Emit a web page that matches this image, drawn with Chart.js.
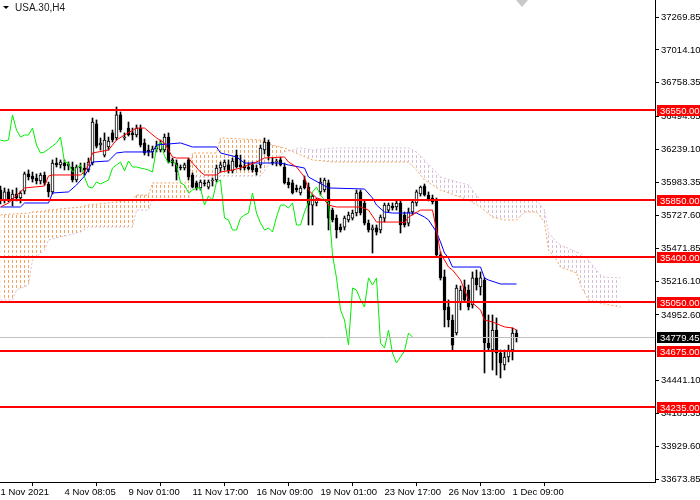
<!DOCTYPE html>
<html>
<head>
<meta charset="utf-8">
<script src="https://cdn.jsdelivr.net/npm/chart.js@4.4.0/dist/chart.umd.min.js"></script>
<style>
  html, body { margin: 0; padding: 0; background: #fff; }
</style>
</head>
<body>
<canvas id="ichimokuChart" width="700" height="500"></canvas>
<script>
const symbolTitle = 'USA.30,H4';

// time axis labels and the bar index they sit on
const timeLabels = ['1 Nov 2021', '4 Nov 08:05', '9 Nov 01:00', '11 Nov 17:00', '16 Nov 09:00', '19 Nov 01:00', '23 Nov 17:00', '26 Nov 13:00', '1 Dec 09:00'];
const timeLabelBars = [0, 16, 32, 48, 64, 80, 96, 112, 128];

// price axis labels (the one under the 34675 tag is hidden in the original)
const priceTicks = [37269.85, 37014.10, 36758.35, 36494.85, 36239.10, 35983.35, 35727.60, 35471.85, 35216.10, 34952.60, 34441.10, 34185.35, 33929.60, 33673.85];

// H4 candles
const opens = [35924, 35846, 35909, 35854, 35893, 35862, 35916, 36049, 36033, 36017, 35994, 36041, 35971, 35909, 36134, 36119, 36134, 36111, 36103, 36002,
  36103, 36095, 36080, 36134, 36438, 36274, 36196, 36259, 36368, 36329, 36508, 36329, 36406, 36368, 36352, 36406, 36290, 36235, 36220, 36243,
  36235, 36235, 36336, 36158, 36134, 36103, 36095, 36158, 36041, 35979, 35940, 35979, 35947, 35994, 36002, 36095, 36103, 36119, 36072, 36196,
  36119, 36111, 36103, 36119, 36095, 36119, 36235, 36297, 36142, 36142, 36158, 36103, 35986, 35979, 35940, 35901, 36002, 35947, 35807, 35823,
  35909, 35924, 35979, 35768, 35706, 35636, 35636, 35691, 35706, 35745, 35909, 35823, 35667, 35613, 35629, 35613, 35706, 35768, 35800, 35792,
  35823, 35730, 35667, 35753, 35823, 35893, 35955, 35885, 35862, 35846, 35419, 35248, 35014, 34913, 34812, 35053, 35170, 35146, 35030, 35240,
  35170, 35224, 34734, 34680, 34835, 34656, 34563, 34625, 34680, 34812];
const highs = [35955, 35940, 35932, 35924, 35940, 35916, 36064, 36080, 36064, 36049, 36056, 36064, 35986, 36158, 36173, 36158, 36158, 36142, 36142, 36119,
  36134, 36134, 36173, 36484, 36469, 36329, 36368, 36336, 36391, 36570, 36531, 36368, 36453, 36406, 36430, 36430, 36321, 36274, 36266, 36305,
  36313, 36360, 36368, 36173, 36158, 36119, 36134, 36173, 36056, 35994, 36002, 36002, 36002, 36017, 36119, 36142, 36158, 36158, 36173, 36235,
  36196, 36158, 36134, 36142, 36119, 36274, 36329, 36313, 36173, 36165, 36181, 36134, 36017, 36002, 35963, 35955, 36033, 35979, 35885, 35862,
  36017, 36017, 36002, 35784, 35730, 35660, 35722, 35753, 35768, 35924, 35924, 35846, 35691, 35652, 35652, 35730, 35823, 35823, 35823, 35846,
  35846, 35753, 35784, 35846, 35924, 35955, 35971, 35909, 35885, 35862, 35442, 35302, 35069, 34952, 35185, 35178, 35224, 35185, 35287, 35302,
  35287, 35240, 34952, 34952, 34929, 34680, 34680, 34718, 34851, 34835];
const lows = [35815, 35823, 35831, 35800, 35839, 35823, 35893, 36002, 35986, 35971, 35971, 35963, 35870, 35893, 36103, 36095, 36080, 36080, 35986, 35986,
  36064, 36041, 36064, 36119, 36251, 36235, 36181, 36235, 36297, 36313, 36375, 36313, 36344, 36313, 36336, 36259, 36196, 36189, 36173, 36220,
  36220, 36220, 36134, 36111, 36002, 36080, 36080, 36002, 35940, 35924, 35924, 35955, 35932, 35955, 35986, 36064, 36080, 36056, 36056, 36095,
  36080, 36080, 36080, 36064, 36041, 36095, 36204, 36158, 36119, 36111, 36111, 35971, 35940, 35893, 35909, 35885, 35932, 35652, 35652, 35800,
  35885, 35909, 35613, 35675, 35551, 35597, 35613, 35675, 35691, 35722, 35730, 35652, 35597, 35434, 35574, 35590, 35675, 35753, 35768, 35768,
  35590, 35636, 35644, 35730, 35800, 35877, 35877, 35839, 35815, 35411, 35224, 34859, 34859, 34680, 34796, 34991, 35053, 34991, 35006, 35146,
  35107, 34501, 34680, 34524, 34485, 34462, 34524, 34586, 34602, 34742];
const closes = [35846, 35909, 35854, 35893, 35862, 35901, 36049, 36025, 36010, 35994, 36041, 35979, 35909, 36134, 36119, 36142, 36111, 36126, 36002, 36103,
  36095, 36080, 36142, 36453, 36266, 36290, 36313, 36305, 36313, 36508, 36391, 36336, 36352, 36352, 36406, 36274, 36212, 36220, 36243, 36266,
  36290, 36336, 36142, 36134, 36064, 36095, 36119, 36025, 35947, 35940, 35986, 35971, 35986, 36002, 36095, 36119, 36142, 36072, 36150, 36103,
  36103, 36095, 36088, 36080, 36064, 36251, 36297, 36189, 36134, 36150, 36119, 35979, 35963, 35901, 35924, 35940, 35940, 35807, 35877, 35846,
  35986, 36002, 35706, 35691, 35613, 35613, 35706, 35730, 35745, 35901, 35745, 35667, 35613, 35629, 35597, 35714, 35807, 35807, 35784, 35823,
  35652, 35652, 35753, 35831, 35909, 35947, 35885, 35846, 35831, 35419, 35240, 34991, 34913, 34718, 35162, 35146, 35069, 35014, 35240, 35185,
  35240, 34734, 34695, 34835, 34656, 34579, 34625, 34672, 34812, 34779.45];

// Ichimoku lines, read at their corners
const tenkanBars = [0, 2, 6, 11, 12, 13, 20, 21, 22, 23, 27, 28, 29, 31, 34, 36, 39, 41, 42, 43, 44, 47, 48, 50, 51, 54, 55, 58, 60, 62, 64, 66, 71, 72, 74, 76, 77, 79, 81, 82, 84, 90, 92, 94, 100, 101, 102, 105, 108, 109, 110, 112, 113, 115, 117, 118, 120, 121, 123, 126, 128, 129];
const tenkanValues = [35792, 35823, 35940, 35955, 36033, 36041, 36041, 36064, 36119, 36212, 36235, 36274, 36313, 36352, 36406, 36406, 36329, 36290, 36235, 36181, 36173, 36173, 36134, 36064, 36041, 36041, 36064, 36080, 36095, 36119, 36142, 36173, 36181, 36142, 36103, 36025, 35924, 35862, 35846, 35807, 35792, 35792, 35768, 35675, 35675, 35667, 35714, 35768, 35768, 35613, 35434, 35325, 35302, 35224, 35069, 35045, 34991, 34913, 34898, 34859, 34851, 34835];
const kijunBars = [0, 5, 6, 12, 13, 17, 19, 21, 23, 27, 29, 31, 38, 39, 45, 48, 54, 55, 59, 61, 70, 72, 76, 77, 82, 91, 93, 94, 96, 98, 104, 106, 107, 109, 110, 111, 112, 113, 120, 121, 122, 125, 129];
const kijunValues = [35792, 35792, 35823, 35823, 35901, 35909, 35963, 36033, 36142, 36150, 36212, 36220, 36220, 36274, 36290, 36259, 36259, 36212, 36181, 36134, 36134, 36119, 36095, 36025, 35940, 35932, 35862, 35807, 35753, 35745, 35745, 35714, 35691, 35597, 35520, 35434, 35395, 35325, 35325, 35240, 35224, 35193, 35193];
const chikouShift = 26;

// cloud edges (span A and span B)
const cloudBars = [0, 3, 4, 7, 8, 11, 12, 20, 22, 33, 34, 37, 38, 47, 48, 54, 55, 65, 68, 71, 75, 78, 83, 102, 104, 106, 110, 117, 120, 123, 126, 129, 131, 134, 136, 137, 139, 140, 144, 145, 147, 150, 151, 155];
const senkouA = [35730, 35738, 35738, 35745, 35753, 35761, 35768, 35792, 35807, 35846, 35885, 35885, 35979, 35979, 36212, 36212, 36329, 36313, 36274, 36251, 36196, 36158, 36142, 36142, 36080, 36002, 35924, 35846, 35792, 35714, 35691, 35691, 35753, 35753, 35675, 35458, 35380, 35325, 35279, 35185, 35069, 35045, 35037, 35014];
const senkouB = [35069, 35069, 35146, 35185, 35380, 35458, 35535, 35597, 35636, 35636, 35768, 35768, 35846, 35846, 36025, 36025, 36033, 36033, 36158, 36220, 36251, 36235, 36251, 36251, 36220, 36158, 36025, 35963, 35846, 35846, 35846, 35846, 35846, 35846, 35768, 35590, 35520, 35497, 35442, 35434, 35380, 35263, 35248, 35240];

// horizontal levels and the last price
const levelPrices = [36550.00, 35850.00, 35400.00, 35050.00, 34675.00, 34235.00];
const lastPrice = 34779.45;

const axisFont = '"Liberation Sans", sans-serif';
const canvas = document.getElementById('ichimokuChart');
const ctx = canvas.getContext('2d');

// vertical dotted hatch used inside the cloud
function hatch(color) {
  const c = document.createElement('canvas');
  c.width = 4;
  c.height = 5;
  const g = c.getContext('2d');
  g.fillStyle = color;
  g.fillRect(0, 0, 1, 3);
  return ctx.createPattern(c, 'repeat');
}

const pts = (xs, ys) => xs.map((x, i) => ({ x, y: ys[i] }));
const candleIdx = closes.map((c, i) => i);

const overlay = {
  id: 'overlay',
  afterDatasetsDraw(chart) {
    const { ctx, chartArea, scales } = chart;
    ctx.save();
    // last price line
    const yp = Math.round(scales.y.getPixelForValue(lastPrice)) + 0.5;
    ctx.strokeStyle = '#c0c0c0';
    ctx.lineWidth = 1;
    ctx.beginPath();
    ctx.moveTo(chartArea.left, yp);
    ctx.lineTo(chartArea.right, yp);
    ctx.stroke();
    // support / resistance lines
    ctx.strokeStyle = '#ff0000';
    ctx.lineWidth = 2;
    levelPrices.forEach(p => {
      const y = Math.round(scales.y.getPixelForValue(p));
      ctx.beginPath();
      ctx.moveTo(chartArea.left, y);
      ctx.lineTo(chartArea.right, y);
      ctx.stroke();
    });
    ctx.restore();
  },
  afterDraw(chart) {
    const { ctx, chartArea, scales } = chart;
    ctx.save();
    ctx.font = '9.5px ' + axisFont;
    ctx.textBaseline = 'middle';
    const tag = (p, bg) => {
      const y = Math.round(scales.y.getPixelForValue(p));
      ctx.fillStyle = bg;
      ctx.fillRect(chartArea.right + 2, y - 5, 700 - chartArea.right - 2, 11);
      ctx.fillStyle = '#fff';
      ctx.fillText(p.toFixed(2), chartArea.right + 5, y + 1);
    };
    levelPrices.forEach(p => tag(p, '#ff0000'));
    tag(lastPrice, '#000');

    // symbol caption
    ctx.fillStyle = '#000';
    ctx.beginPath();
    ctx.moveTo(3, 6);
    ctx.lineTo(9, 6);
    ctx.lineTo(6, 9);
    ctx.closePath();
    ctx.fill();
    ctx.fillStyle = '#1a1a1a';
    ctx.font = '10px ' + axisFont;
    ctx.textBaseline = 'alphabetic';
    ctx.fillText(symbolTitle, 15, 11);

    // chart shift marker
    ctx.fillStyle = '#c8c8c8';
    ctx.beginPath();
    ctx.moveTo(516, 0);
    ctx.lineTo(528, 0);
    ctx.lineTo(522, 7);
    ctx.closePath();
    ctx.fill();
    ctx.restore();
  }
};

new Chart(ctx, {
  type: 'bar',
  data: {
    datasets: [
      {
        type: 'line',
        label: 'Senkou A',
        data: pts(cloudBars, senkouA),
        borderColor: '#f4a460',
        borderWidth: 1,
        borderDash: [2, 2],
        pointRadius: 0,
        tension: 0,
        fill: { target: '+1', above: hatch('#f4a460'), below: hatch('#d8bfd8') },
        order: 20
      },
      {
        type: 'line',
        label: 'Senkou B',
        data: pts(cloudBars, senkouB),
        borderColor: '#d8bfd8',
        borderWidth: 1,
        borderDash: [2, 2],
        pointRadius: 0,
        tension: 0,
        fill: false,
        order: 19
      },
      {
        label: 'Wicks',
        data: candleIdx.map(i => ({ x: i, y: [lows[i], highs[i]] })),
        backgroundColor: '#000',
        barThickness: 1,
        grouped: false,
        order: 10
      },
      {
        label: 'Bodies',
        data: candleIdx.map(i => ({ x: i, y: [opens[i], closes[i]] })),
        backgroundColor: candleIdx.map(i => closes[i] >= opens[i] ? '#fff' : '#000'),
        borderColor: '#000',
        borderWidth: 1,
        borderSkipped: false,
        barThickness: 3,
        grouped: false,
        order: 9
      },
      {
        type: 'line',
        label: 'Chikou',
        data: candleIdx.filter(i => i >= chikouShift).map(i => ({ x: i - chikouShift, y: closes[i] })),
        borderColor: '#00ee00',
        borderWidth: 1,
        pointRadius: 0,
        tension: 0,
        order: 5
      },
      {
        type: 'line',
        label: 'Kijun',
        data: pts(kijunBars, kijunValues),
        borderColor: '#0000ff',
        borderWidth: 1,
        pointRadius: 0,
        tension: 0,
        order: 4
      },
      {
        type: 'line',
        label: 'Tenkan',
        data: pts(tenkanBars, tenkanValues),
        borderColor: '#ff0000',
        borderWidth: 1,
        pointRadius: 0,
        tension: 0,
        order: 3
      }
    ]
  },
  options: {
    responsive: false,
    animation: false,
    events: [],
    layout: { padding: 0 },
    plugins: {
      legend: { display: false },
      tooltip: { enabled: false }
    },
    scales: {
      x: {
        type: 'linear',
        position: 'bottom',
        min: -0.125,
        max: 163.625,
        offset: false,
        grid: { display: true, drawOnChartArea: false, drawTicks: true, tickLength: 4, color: '#000' },
        border: { display: true, color: '#000', width: 1 },
        ticks: {
          autoSkip: false,
          maxRotation: 0,
          align: 'start',
          padding: 1,
          color: '#000',
          font: { family: axisFont, size: 9.5 },
          callback: v => timeLabels[timeLabelBars.indexOf(v)]
        },
        afterBuildTicks: s => { s.ticks = timeLabelBars.map(v => ({ value: v })); },
        afterFit: s => { s.height = 18; s.paddingLeft = 0; s.paddingRight = 0; }
      },
      y: {
        type: 'linear',
        position: 'right',
        min: 33652.8,
        max: 37402.1,
        beginAtZero: false,
        grid: { display: true, drawOnChartArea: false, drawTicks: true, tickLength: 4, color: '#000' },
        border: { display: true, color: '#000', width: 1 },
        ticks: {
          padding: 2,
          color: '#000',
          font: { family: axisFont, size: 9.5 },
          callback: v => v.toFixed(2)
        },
        afterBuildTicks: s => { s.ticks = priceTicks.map(v => ({ value: v })); },
        afterFit: s => { s.width = 45; s.paddingTop = 0; s.paddingBottom = 0; }
      }
    }
  },
  plugins: [overlay]
});
</script>
</body>
</html>
